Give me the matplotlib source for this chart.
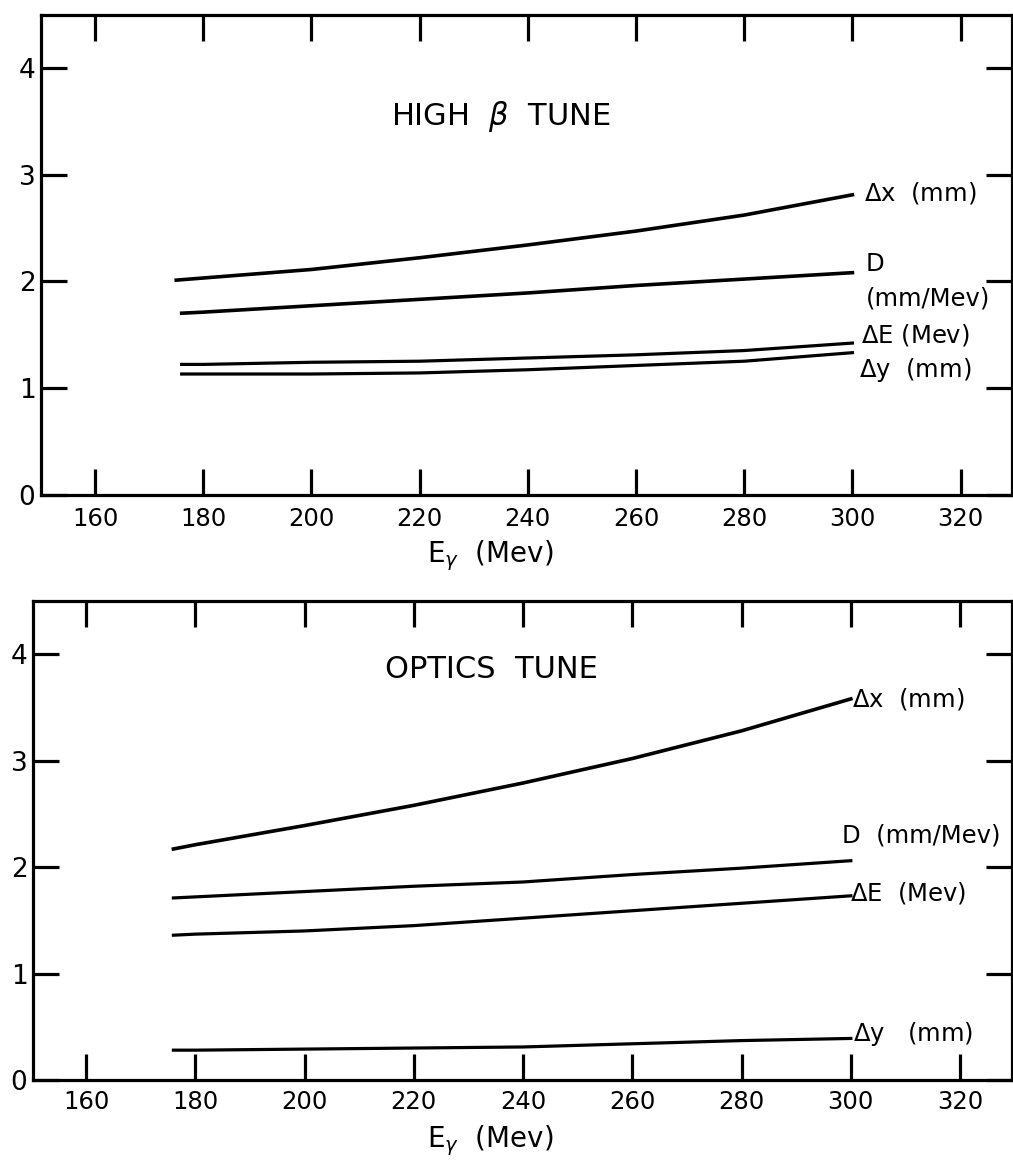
import matplotlib
matplotlib.use("Agg")
import matplotlib.pyplot as plt

# ---- data ----
energy = [176, 180, 200, 220, 240, 260, 280, 300]

# HIGH beta tune
hb_dx = [2.01, 2.03, 2.11, 2.22, 2.34, 2.47, 2.62, 2.81]
hb_D = [1.70, 1.71, 1.77, 1.83, 1.89, 1.96, 2.02, 2.08]
hb_dE = [1.22, 1.22, 1.24, 1.25, 1.28, 1.31, 1.35, 1.42]
hb_dy = [1.13, 1.13, 1.13, 1.14, 1.17, 1.21, 1.25, 1.33]

# OPTICS tune
op_dx = [2.17, 2.21, 2.39, 2.58, 2.79, 3.02, 3.28, 3.58]
op_D = [1.71, 1.72, 1.77, 1.82, 1.86, 1.93, 1.99, 2.06]
op_dE = [1.36, 1.37, 1.40, 1.45, 1.52, 1.59, 1.66, 1.73]
op_dy = [0.28, 0.28, 0.29, 0.30, 0.31, 0.34, 0.37, 0.39]

x_ticks = [160, 180, 200, 220, 240, 260, 280, 300, 320]
y_ticks = [0, 1, 2, 3, 4]
y_ticklabels = ["0", "1", "2", "3", "4"]

panel_titles = ["HIGH  $\\beta$  TUNE", "OPTICS  TUNE"]
hb_labels = [("$\\Delta$x  (mm)", 302.2, 2.83), ("D", 302.4, 2.16),
             ("(mm/Mev)", 302.4, 1.84), ("$\\Delta$E (Mev)", 301.6, 1.50),
             ("$\\Delta$y  (mm)", 301.2, 1.17)]
op_labels = [("$\\Delta$x  (mm)", 300.2, 3.58), ("D  (mm/Mev)", 298.4, 2.30),
             ("$\\Delta$E  (Mev)", 299.8, 1.76), ("$\\Delta$y   (mm)", 300.4, 0.43)]
x_label = "E$_\\gamma$  (Mev)"

plt.rcParams['font.family'] = ['DejaVu Sans']
plt.rcParams['mathtext.fontset'] = 'dejavusans'

fig = plt.figure(figsize=(10.13, 11.62), dpi=100)
ax1 = fig.add_axes([0.0405, 0.5744, 0.9585, 0.4131])
ax2 = fig.add_axes([0.0326, 0.0706, 0.9664, 0.4122])

LW = 2.3

def style(ax, xlim, xpad):
    ax.set_xlim(*xlim)
    ax.set_ylim(0, 4.5)
    for s in ax.spines.values():
        s.set_linewidth(LW)
    ax.set_xticks(x_ticks)
    ax.set_xticklabels([str(v) for v in x_ticks], fontsize=17.5)
    ax.set_yticks(y_ticks)
    ax.set_yticklabels(y_ticklabels, fontsize=19)
    ax.tick_params(axis='x', direction='in', top=True, bottom=True,
                   length=18.5, width=LW, pad=xpad)
    ax.tick_params(axis='y', direction='in', left=True, right=True,
                   length=19, width=LW, pad=4)

lc = 'black'
ax1.plot([175] + energy[1:], hb_dx, color=lc, lw=LW + 0.3)
ax1.plot(energy, hb_D, color=lc, lw=LW + 0.3)
ax1.plot(energy, hb_dE, color=lc, lw=LW)
ax1.plot(energy, hb_dy, color=lc, lw=LW)
style(ax1, (150, 329.5), 9)
ax1.text(214.7, 3.54, panel_titles[0], fontsize=22, va='center', ha='left')
for t, x, y in hb_labels:
    ax1.text(x, y, t, fontsize=17.5, va='center', ha='left')

ax2.plot(energy, op_dx, color=lc, lw=LW + 0.3)
ax2.plot(energy, op_D, color=lc, lw=LW)
ax2.plot(energy, op_dE, color=lc, lw=LW)
ax2.plot(energy, op_dy, color=lc, lw=LW)
style(ax2, (150.3, 329.5), 7)
ax2.text(214.8, 3.86, panel_titles[1], fontsize=22, va='center', ha='left')
for t, x, y in op_labels:
    ax2.text(x, y, t, fontsize=17.5, va='center', ha='left')

fig.text(0.484, 0.5164, x_label, fontsize=20, ha='center', va='baseline')
fig.text(0.484, 0.0129, x_label, fontsize=20, ha='center', va='baseline')

fig.savefig("out.png", dpi=100)
